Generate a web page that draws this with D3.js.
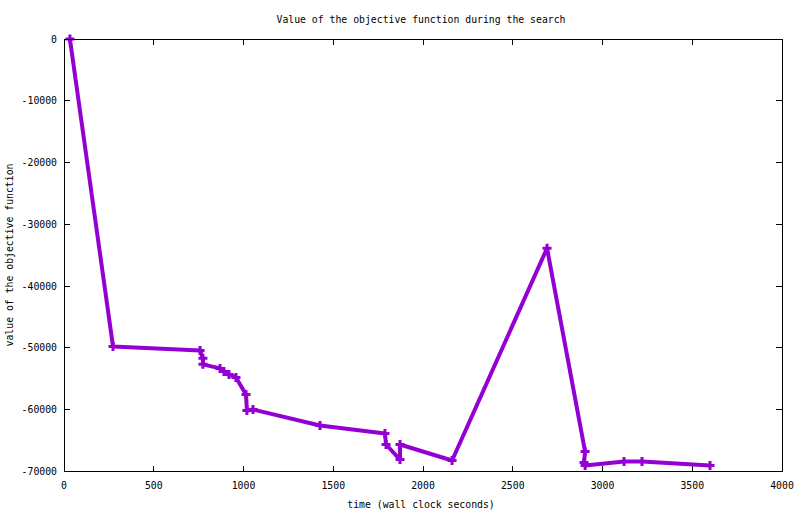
<!DOCTYPE html>
<html><head><meta charset="utf-8">
<script src="https://cdn.jsdelivr.net/npm/d3@7"></script>
<style>body{margin:0;background:#fff}svg{display:block}text{font-family:"DejaVu Sans Mono",monospace;font-size:9.8px;fill:#000}</style>
</head><body><svg id="c" width="800" height="514"></svg>
<script>
const title = "Value of the objective function during the search";
const xLabel = "time (wall clock seconds)";
const yLabel = "value of the objective function";
const xTicks = [0,500,1000,1500,2000,2500,3000,3500,4000];
const yTicks = [0,-10000,-20000,-30000,-40000,-50000,-60000,-70000];
const times  = [33, 273, 758, 774, 774, 869, 891, 919, 958, 1014, 1019, 1053, 1426, 1788, 1794, 1872, 1872, 2162, 2691, 2903, 2897, 2903, 3120, 3220, 3599];
const values = [0, -49750, -50400, -51690, -52660, -53310, -53800, -54290, -54770, -57530, -60120, -59960, -62550, -63850, -65630, -68060, -65630, -68220, -33870, -66770, -68550, -69030, -68380, -68380, -69030];

const svg = d3.select("#c");
const L=64, R=782, T=39, B=471.5;
const x = d3.scaleLinear().domain([0,4000]).range([L,R]);
const y = d3.scaleLinear().domain([-70000,0]).range([B,T]);
const ink="#000";

// ticks (inner, mirrored)
const tl=6;
const g=svg.append("g").attr("stroke",ink).attr("stroke-width",1).attr("shape-rendering","crispEdges");
xTicks.forEach(t=>{
  g.append("line").attr("x1",x(t)).attr("x2",x(t)).attr("y1",B).attr("y2",B-tl);
  g.append("line").attr("x1",x(t)).attr("x2",x(t)).attr("y1",T).attr("y2",T+tl);
});
yTicks.forEach(t=>{
  g.append("line").attr("x1",L).attr("x2",L+tl).attr("y1",y(t)).attr("y2",y(t));
  g.append("line").attr("x1",R).attr("x2",R-tl).attr("y1",y(t)).attr("y2",y(t));
});
xTicks.forEach(t=>{
  svg.append("text").attr("x",x(t)).attr("y",B+17).attr("text-anchor","middle").text(t);
});
yTicks.forEach(t=>{
  svg.append("text").attr("x",L-7).attr("y",y(t)+3.5).attr("text-anchor","end").text(t);
});

// data
const data = times.map((t,i)=>({t, v:values[i]}));
const line = d3.line().x(d=>x(d.t)).y(d=>y(d.v));
svg.append("path").datum(data).attr("d",line).attr("fill","none")
  .attr("stroke","#9400D3").attr("stroke-width",4).attr("stroke-linejoin","round");
const s=4.5;
svg.append("g").selectAll("path").data(data).join("path")
  .attr("d",d=>{const cx=x(d.t), cy=y(d.v);return `M${cx-s},${cy}H${cx+s}M${cx},${cy-s}V${cy+s}`;})
  .attr("stroke","#9400D3").attr("stroke-width",3).attr("fill","none");

// border
svg.append("rect").attr("x",L).attr("y",T).attr("width",R-L).attr("height",B-T)
  .attr("fill","none").attr("stroke",ink).attr("stroke-width",1).attr("shape-rendering","crispEdges");

svg.append("text").attr("x",421).attr("y",23).attr("text-anchor","middle").text(title);
svg.append("text").attr("x",421).attr("y",508).attr("text-anchor","middle").text(xLabel);
svg.append("text").attr("transform","translate(13,255) rotate(-90)").attr("text-anchor","middle").text(yLabel);
</script></body></html>
